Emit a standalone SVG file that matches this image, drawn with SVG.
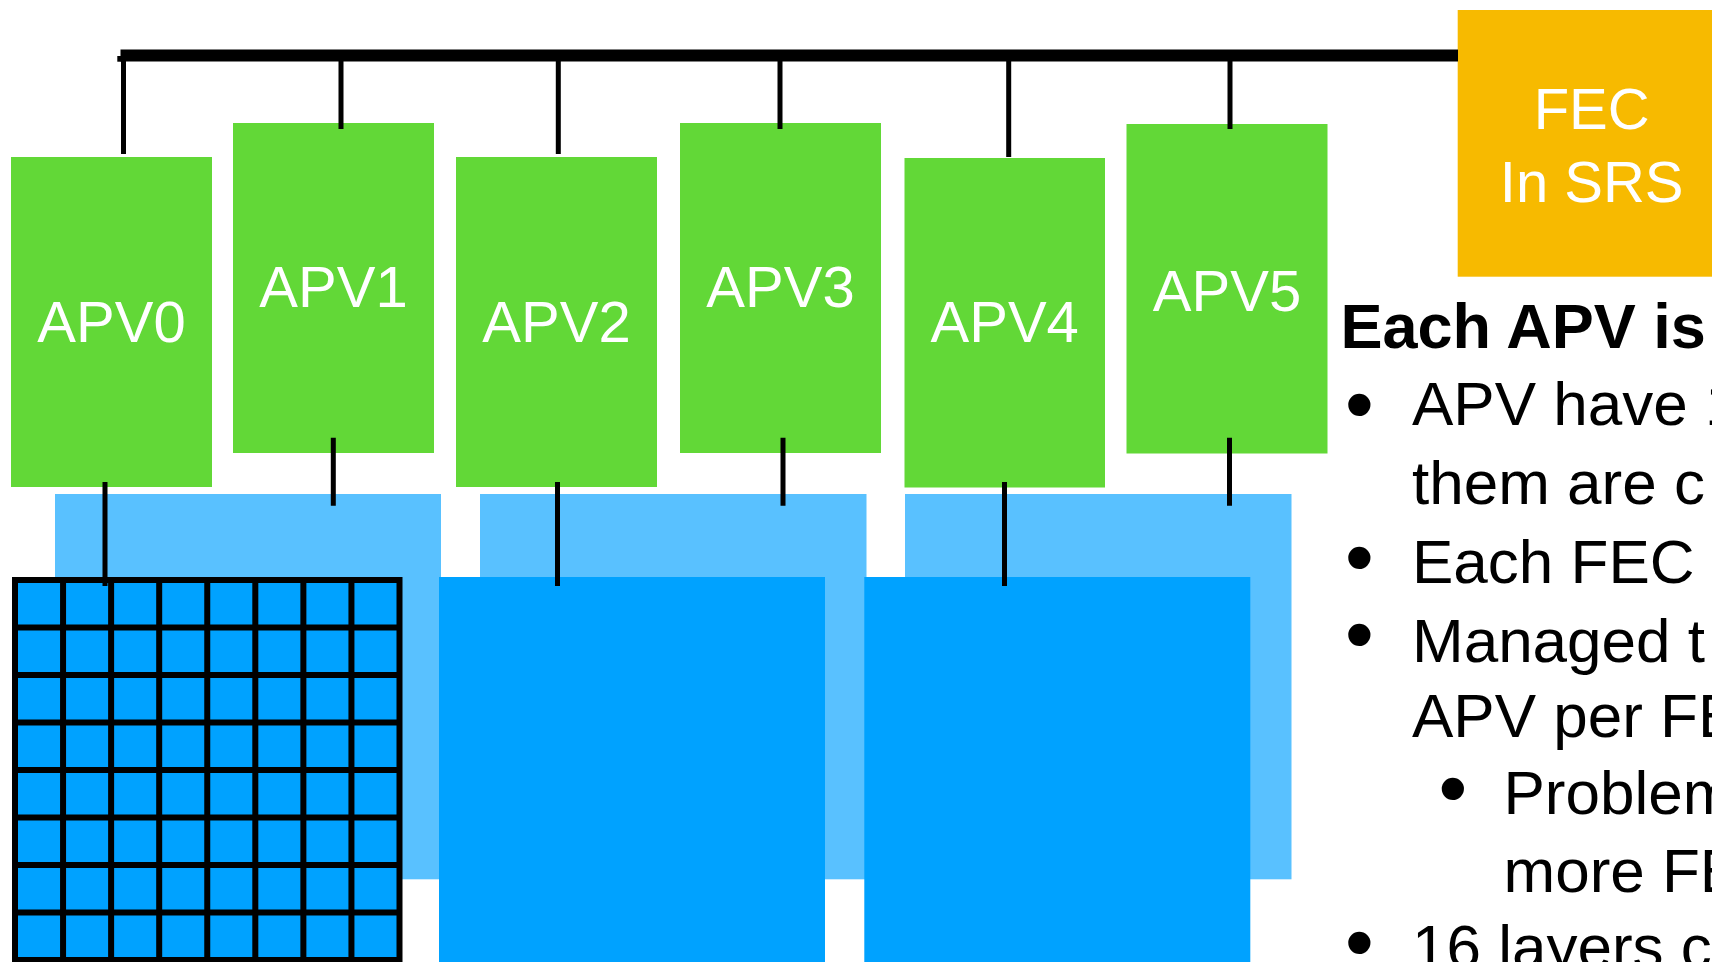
<svg xmlns="http://www.w3.org/2000/svg" width="1712" height="962" viewBox="0 0 1712 962">
<defs>
<style>
.apv{fill:#62D837}
.lb{fill:#59C1FF}
.db{fill:#00A2FF}
.fec{fill:#F7BA00}
.lbl{font-family:"Liberation Sans",Arial,sans-serif;font-size:58px;fill:#FFFFFF;text-anchor:middle}
.txt{font-family:"Liberation Sans",Arial,sans-serif;font-size:62px;fill:#000000}
.ttl{font-family:"Liberation Sans",Arial,sans-serif;font-size:63px;font-weight:bold;fill:#000000}
.bul{font-size:82px}
.stub{stroke:#000000;stroke-width:5;fill:none}
.grid{stroke:#000000;stroke-width:6;fill:none}
</style>
</defs>
<rect width="1712" height="962" fill="#FFFFFF"/>

<g id="strip-back-1"><rect class="lb" x="55" y="494" width="386" height="385.3"/></g>
<g id="strip-back-2"><rect class="lb" x="480" y="494" width="386.5" height="385.3"/></g>
<g id="strip-back-3"><rect class="lb" x="905" y="494" width="386.5" height="385.3"/></g>

<g id="strip-front-2"><rect class="db" x="439" y="577" width="386" height="390"/></g>
<g id="strip-front-3"><rect class="db" x="864.3" y="577" width="386" height="390"/></g>

<g id="pad-grid">
<rect class="db" x="15" y="580" width="384.5" height="390"/>
<path class="grid" d="M15,580V965 M63.06,580V965 M111.12,580V965 M159.19,580V965 M207.25,580V965 M255.31,580V965 M303.37,580V965 M351.44,580V965 M399.5,580V965
M12,580H402.5 M12,627.5H402.5 M12,675H402.5 M12,722.5H402.5 M12,770H402.5 M12,817.5H402.5 M12,865H402.5 M12,912.5H402.5 M12,960H402.5"/>
</g>

<g id="apv0"><rect class="apv" x="11" y="157" width="201" height="330"/><text class="lbl" x="111.5" y="342">APV0</text></g>
<g id="apv1"><rect class="apv" x="233" y="123" width="201" height="330"/><text class="lbl" x="333.5" y="307.3">APV1</text></g>
<g id="apv2"><rect class="apv" x="456" y="157" width="201" height="330"/><text class="lbl" x="556.5" y="342">APV2</text></g>
<g id="apv3"><rect class="apv" x="680" y="123" width="201" height="330"/><text class="lbl" x="780.5" y="307.3">APV3</text></g>
<g id="apv4"><rect class="apv" x="904.5" y="158" width="200.5" height="329.5"/><text class="lbl" x="1004.7" y="342.3">APV4</text></g>
<g id="apv5"><rect class="apv" x="1126.5" y="124" width="201" height="329.5"/><text class="lbl" x="1227" y="310.7">APV5</text></g>

<g id="fec"><rect class="fec" x="1457.7" y="10" width="268" height="266.7"/>
<text class="lbl" x="1591.7" y="129.3">FEC</text>
<text class="lbl" x="1591.7" y="201.7">In SRS</text></g>

<g id="connectors">
<rect x="120.5" y="49.5" width="1337.5" height="12" fill="#000000"/>
<rect x="117.3" y="56" width="4" height="5.7" fill="#000000"/>
<path class="stub" d="M123.5,58V154 M341,58V129 M558.3,58V154 M780,58V129 M1008.7,58V157 M1230,58V129"/>
<path class="stub" d="M105,482V586 M333.3,437.7V505.7 M557.5,482V586 M783,437.7V505.7 M1004.5,482V586 M1229.5,437.7V505.7"/>
</g>

<g id="notes">
<text class="ttl" x="1340.5" y="348.3">Each APV is</text>
<text class="txt" y="425"><tspan class="bul" x="1345" dy="6.5">•</tspan><tspan x="1412" dy="-6.5">APV have 1</tspan><tspan x="1412" dy="78.5">them are c</tspan></text>
<text class="txt" y="583.3"><tspan class="bul" x="1345" dy="1.5">•</tspan><tspan x="1412" dy="-1.5">Each FEC</tspan></text>
<text class="txt" y="661.7"><tspan class="bul" x="1345" dy="0">•</tspan><tspan x="1412" dy="0">Managed t</tspan><tspan x="1412" dy="75.3">APV per FE</tspan></text>
<text class="txt" y="814.3"><tspan class="bul" x="1438.5" dy="2">•</tspan><tspan x="1503.5" dy="-2">Problem</tspan><tspan x="1503.5" dy="77.4">more FE</tspan></text>
<text class="txt" y="968"><tspan class="bul" x="1345" dy="1.8">•</tspan><tspan x="1412" dy="-1.8">16 layers c</tspan></text>
</g>
</svg>
